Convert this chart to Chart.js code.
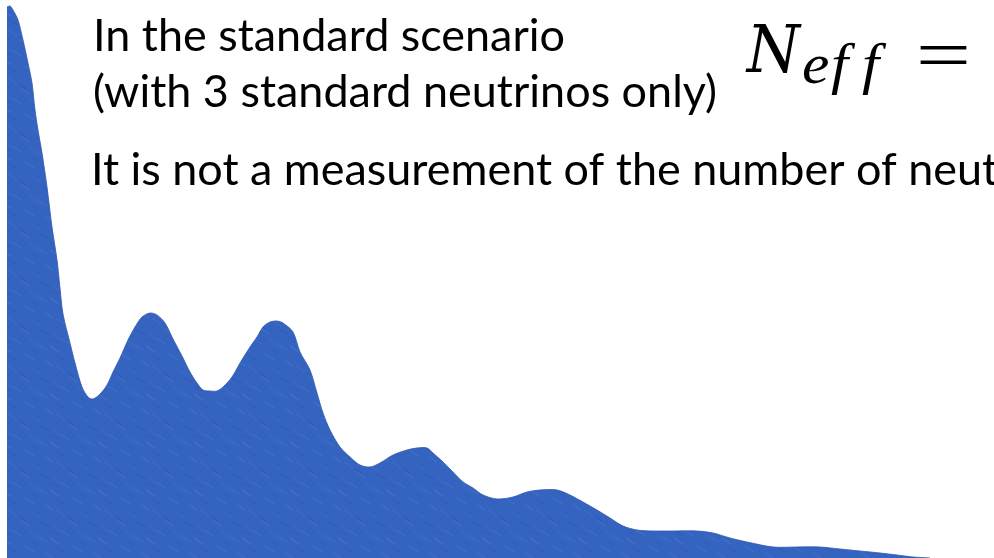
<!DOCTYPE html>
<html>
<head>
<meta charset="utf-8">
<script src="https://cdn.jsdelivr.net/npm/chart.js@4/dist/chart.umd.min.js"></script>
<style>
  html, body { margin: 0; padding: 0; background: #ffffff; }
  #wrap { position: relative; width: 994px; height: 558px; overflow: hidden; }
  canvas { display: block; }
</style>
</head>
<body>
<div id="wrap"><canvas id="spectrum" width="994" height="558"></canvas></div>
<script>
// Angular power spectrum silhouette: multipole and power (arbitrary μK² units)
const multipoles = [
  17.5, 25, 32.5, 45, 57.5, 70, 80, 87.5, 95, 105,
  117.5, 130, 142.5, 150, 157.5, 175, 187.5, 205, 220,
  232.5, 250, 267.5, 282.5, 300, 320, 337.5, 355, 375, 392.5,
  412.5, 432.5, 455, 475, 492.5, 507.5, 525, 542.5, 557.5, 580,
  600, 625, 642.5, 657.5, 675, 692.5, 707.5, 732.5, 750, 775,
  792.5, 807.5, 825, 850, 875, 900, 925, 950, 982.5, 1017.5,
  1042.5, 1067.5, 1082.5, 1107.5, 1132.5, 1157.5, 1182.5, 1207.5, 1242.5, 1282.5,
  1317.5, 1350, 1392.5, 1425, 1457.5, 1492.5, 1525, 1557.5, 1592.5, 1632.5,
  1682.5, 1742.5, 1782.5, 1825, 1867.5, 1932.5, 1992.5, 2050, 2100, 2150,
  2200, 2242.5, 2282.5, 2325
];
const power = [
  5510, 5520, 5480, 5380, 5180, 4950, 4750, 4480, 4280, 4050,
  3710, 3310, 2980, 2700, 2440, 2150, 1950, 1710, 1610,
  1590, 1640, 1730, 1860, 2000, 2180, 2310, 2410, 2450, 2430,
  2350, 2190, 2020, 1860, 1750, 1680, 1670, 1670, 1710, 1810,
  1950, 2110, 2210, 2310, 2360, 2370, 2350, 2260, 2060, 1880,
  1650, 1450, 1280, 1110, 1010, 930, 910, 950, 1030, 1080,
  1100, 1100, 1050, 960, 860, 760, 700, 630, 590, 610,
  660, 680, 680, 630, 560, 480, 400, 320, 280, 270,
  270, 270, 250, 200, 160, 110, 110, 110, 90, 70,
  50, 30, 10, 0
];
const ellRange = [0, 2485];
const powerRange = [0, 5580];

// Annotation text
const captionLines = [
  'In the standard scenario',
  '(with 3 standard neutrinos only)',
  'It is not a measurement of the number of neutrinos'
];
const mathSymbol = 'N';
const mathSubscript = ['e', 'f', 'f'];
const mathRelation = '=';

// Textured blue fill (soft diagonal paper-like streaks)
function makeFillPattern() {
  const c = document.createElement('canvas');
  c.width = 48; c.height = 48;
  const g = c.getContext('2d');
  g.fillStyle = 'rgb(52,99,192)';
  g.fillRect(0, 0, 48, 48);
  g.lineWidth = 1.2;
  const streaks = [
    [2, 10, 0.24], [14, 3, 0.18], [25, 18, 0.22], [37, 8, 0.2], [8, 30, 0.19],
    [20, 40, 0.24], [33, 33, 0.17], [44, 24, 0.22], [5, 46, 0.16], [28, 2, 0.14]
  ];
  streaks.forEach(([x, y, a]) => {
    for (let dx = -48; dx <= 48; dx += 48) {
      for (let dy = -48; dy <= 48; dy += 48) {
        g.strokeStyle = 'rgba(115,155,230,' + a + ')';
        g.beginPath();
        g.moveTo(x + dx, y + dy);
        g.lineTo(x + dx + 9, y + dy + 6);
        g.stroke();
      }
    }
  });
  const darks = [[10, 20], [30, 12], [18, 36], [40, 42], [2, 2]];
  darks.forEach(([x, y]) => {
    for (let dx = -48; dx <= 48; dx += 48) {
      for (let dy = -48; dy <= 48; dy += 48) {
        g.strokeStyle = 'rgba(35,70,150,0.18)';
        g.beginPath();
        g.moveTo(x + dx, y + dy);
        g.lineTo(x + dx + 8, y + dy + 5);
        g.stroke();
      }
    }
  });
  const ctx = document.createElement('canvas').getContext('2d');
  return ctx.createPattern(c, 'repeat');
}

const annotationPlugin = {
  id: 'annotations',
  afterDraw(chart) {
    const ctx = chart.ctx;
    ctx.save();
    ctx.fillStyle = '#000000';
    ctx.textBaseline = 'alphabetic';
    ctx.textAlign = 'left';

    // Caption lines in a humanist sans, condensed to the slide's text width
    ctx.font = '45px Lato';
    const w1 = ctx.measureText(captionLines[0]).width;
    const w2 = ctx.measureText(captionLines[1]).width;
    const squeeze = ((472 / w1) + (624 / w2)) / 2;
    const placements = [[93, 51], [93, 107], [91, 185]];
    captionLines.forEach((t, i) => {
      ctx.save();
      ctx.translate(placements[i][0], placements[i][1]);
      ctx.scale(squeeze, 1);
      ctx.fillText(t, 0, 0);
      ctx.restore();
    });

    // Math expression N_eff =
    const inkLeft = (txt, left, base, font, sx) => {
      ctx.font = font;
      const m = ctx.measureText(txt);
      ctx.save();
      ctx.translate(left, base);
      ctx.scale(sx || 1, 1);
      ctx.fillText(txt, m.actualBoundingBoxLeft, 0);
      ctx.restore();
    };
    inkLeft(mathSymbol, 745, 72, 'italic 66px "DejaVu Serif"', 0.92);
    const subLefts = [803, 831, 862];
    mathSubscript.forEach((ch, i) => {
      inkLeft(ch, subLefts[i], 83, 'italic 56px "Liberation Serif"', 1.1);
    });
    ctx.font = '71px "Liberation Serif"';
    const em = ctx.measureText(mathRelation);
    const inkW = em.actualBoundingBoxLeft + em.actualBoundingBoxRight;
    const sxEq = 47 / inkW;
    const base = 54.5 - (em.actualBoundingBoxDescent - em.actualBoundingBoxAscent) / 2;
    ctx.save();
    ctx.translate(920, base);
    ctx.scale(sxEq, 1);
    ctx.fillText(mathRelation, em.actualBoundingBoxLeft, 0);
    ctx.restore();

    ctx.restore();
  }
};

const points = multipoles.map((l, i) => ({ x: l, y: power[i] }));

new Chart(document.getElementById('spectrum'), {
  type: 'line',
  data: {
    datasets: [{
      data: points,
      fill: 'origin',
      backgroundColor: makeFillPattern(),
      borderColor: 'rgba(52,92,175,0.85)',
      borderWidth: 1,
      pointRadius: 0,
      tension: 0.3
    }]
  },
  options: {
    responsive: false,
    animation: false,
    layout: { padding: 0 },
    plugins: { legend: { display: false }, tooltip: { enabled: false }, title: { display: false } },
    scales: {
      x: { type: 'linear', min: ellRange[0], max: ellRange[1], display: false },
      y: { type: 'linear', min: powerRange[0], max: powerRange[1], display: false }
    }
  },
  plugins: [annotationPlugin]
});
</script>
</body>
</html>
